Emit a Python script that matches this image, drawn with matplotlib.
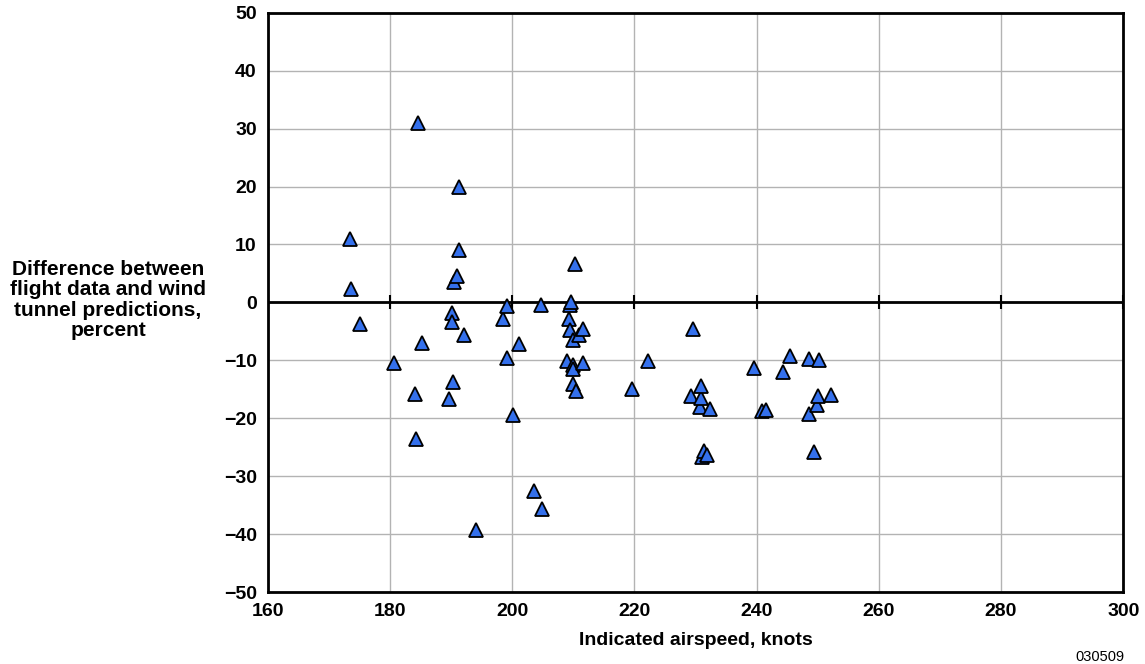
import numpy as np
import matplotlib.pyplot as plt

plt.rcParams["font.family"] = ["Liberation Sans", "DejaVu Sans"]

# indicated airspeed, knots
airspeed = [
    173.4, 173.6, 175.0, 180.7, 184.5, 184.0, 184.2, 185.2, 189.7, 190.2,
    190.2, 190.3, 190.5, 190.9, 191.2, 191.2, 192.1, 194.1, 198.5, 199.1,
    199.2, 200.1, 201.1, 203.6, 204.65, 204.9, 209.0, 209.3, 209.4, 209.5,
    209.6, 209.9, 209.9, 209.9, 210.0, 210.3, 210.4, 210.9, 211.5, 211.5,
    219.65, 222.2, 229.3, 229.5, 230.8, 230.85, 230.95, 231.0, 231.4, 231.8,
    232.4, 239.5, 240.8, 241.6, 244.3, 245.5, 248.5, 248.6, 249.35, 249.9,
    250.1, 250.2, 252.1,
]
# difference between flight data and wind tunnel predictions, percent
difference = [
    11.0, 2.3, -3.7, -10.4, 31.0, -15.8, -23.5, -7.0, -16.6, -1.8,
    -3.3, -13.7, 3.5, 4.6, 9.0, 20.0, -5.6, -39.3, -2.8, -9.5,
    -0.6, -19.5, -7.1, -32.5, -0.5, -35.7, -10.1, -2.9, -4.7, -0.5,
    0.1, -6.5, -10.8, -11.4, -14.0, 6.6, -15.3, -5.6, -4.5, -10.5,
    -15.0, -10.1, -16.1, -4.5, -18.0, -16.4, -14.4, -26.7, -25.6, -26.4,
    -18.3, -11.3, -18.8, -18.5, -12.0, -9.2, -19.2, -9.8, -25.8, -17.7,
    -16.1, -10.0, -16.0,
]

xticks = [160, 180, 200, 220, 240, 260, 280, 300]
yticks = [50, 40, 30, 20, 10, 0, -10, -20, -30, -40, -50]

fig = plt.figure(figsize=(11.45, 6.64), dpi=100)
ax = fig.add_axes([0.234, 0.108, 0.747, 0.873])

ax.set_xlim(160, 300)
ax.set_ylim(-50, 50)
ax.set_xticks(xticks)
ax.set_yticks(yticks)
ax.set_yticklabels([str(v).replace("-", "\u2212") for v in yticks])
ax.tick_params(length=0, labelsize=14, pad=8)
for lab in ax.get_xticklabels() + ax.get_yticklabels():
    lab.set_fontweight("bold")

ax.grid(True, color="#b3b3b3", linewidth=1.0)
ax.set_axisbelow(True)
for s in ax.spines.values():
    s.set_linewidth(2.0)
    s.set_color("black")

# zero line with small ticks at each major x tick
ax.axhline(0, color="black", linewidth=2.0, zorder=2)
ax.plot(xticks, np.zeros(len(xticks)), linestyle="none", marker="|",
        markersize=10, markeredgewidth=1.5, color="black", zorder=2)

ax.plot(airspeed, difference, linestyle="none", marker="^", markersize=9.5,
        markerfacecolor="#3470ec", markeredgecolor="black",
        markeredgewidth=1.3, zorder=3, clip_on=False)

ax.set_xlabel("Indicated airspeed, knots", fontsize=14, fontweight="bold",
              labelpad=8)
fig.text(108 / 1145, 1 - 300 / 664,
         "Difference between\nflight data and wind\ntunnel predictions,\npercent",
         ha="center", va="center", fontsize=15, fontweight="bold",
         linespacing=1.1)
fig.text(1100 / 1145, 1 - 657 / 664, "030509", ha="center", va="center",
         fontsize=10.5)

fig.savefig("out.png", dpi=100)
